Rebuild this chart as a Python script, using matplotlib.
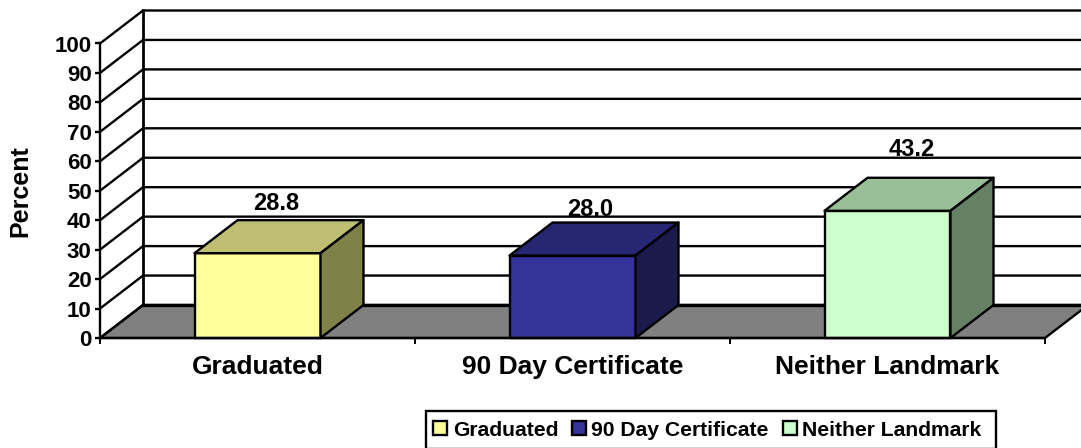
import matplotlib
matplotlib.use('Agg')
import matplotlib.pyplot as plt
from matplotlib.patches import Polygon, Patch, Rectangle

plt.rcParams['font.family'] = ['Liberation Sans', 'DejaVu Sans']
plt.rcParams['font.weight'] = 'bold'

categories = ['Graduated', '90 Day Certificate', 'Neither Landmark']
values = [28.8, 28.0, 43.2]
value_labels = ['28.8', '28.0', '43.2']
front_colors = ['#FFFF99', '#333399', '#CCFFCC']
top_colors = ['#BFBF73', '#262673', '#99BF99']
side_colors = ['#808049', '#1A1A4D', '#668066']
y_ticks = list(range(0, 101, 10))

W, H = 1081, 448
LW = 1.7
# depth of the fake 3d box, in data units (43px across, 33px up)
dx = 43 / 315
dy = 33 / 2.945
bar_w = 0.4
# label offset from the box centre, and gap above its back edge
label_shift = [0.058, 0.056, 0.077]
label_gap = [5.8, 4.4, 9.6]

fig = plt.figure(figsize=(W / 100, H / 100), dpi=100)
ax = fig.add_axes([100 / W, (H - 338) / H, 945 / W, 294.5 / H])
ax.set_xlim(0, 3)
ax.set_ylim(0, 100)

# floor
ax.add_patch(Polygon([(0, 0), (3, 0), (3 + dx, dy), (dx, dy)], closed=True, fc='#808080',
                     ec='k', lw=LW, clip_on=False, zorder=1))
ax.plot([dx, 3 + dx], [dy, dy], color='k', lw=2.4, clip_on=False, zorder=2)

# back wall and side wall grid
for v in y_ticks:
    if v > 0:
        ax.plot([0, dx, 3 + dx], [v, v + dy, v + dy], color='k', lw=LW, clip_on=False, zorder=2)
ax.plot([dx, dx], [dy, 100 + dy], color='k', lw=LW + 0.3, clip_on=False, zorder=2)
ax.plot([0, dx], [0, dy], color='k', lw=LW, clip_on=False, zorder=2)

# boxes
for i, v in enumerate(values):
    x0 = i + 0.5 - bar_w / 2
    x1 = x0 + bar_w
    ax.add_patch(Polygon([(x0, 0), (x1, 0), (x1, v), (x0, v)], closed=True, fc=front_colors[i],
                         ec='k', lw=LW, clip_on=False, zorder=3, joinstyle='round'))
    ax.add_patch(Polygon([(x0, v), (x1, v), (x1 + dx, v + dy), (x0 + dx, v + dy)], closed=True,
                         fc=top_colors[i], ec='k', lw=LW, clip_on=False, zorder=3, joinstyle='round'))
    ax.add_patch(Polygon([(x1, 0), (x1 + dx, dy), (x1 + dx, v + dy), (x1, v)], closed=True,
                         fc=side_colors[i], ec='k', lw=LW, clip_on=False, zorder=3, joinstyle='round'))
    ax.text(i + 0.5 + label_shift[i], v + dy + label_gap[i], value_labels[i], ha='center', va='center',
            fontsize=17, fontweight='bold', zorder=5)

ax.patch.set_visible(False)
for s in ['top', 'right']:
    ax.spines[s].set_visible(False)
for s in ['left', 'bottom']:
    ax.spines[s].set_linewidth(LW)
    ax.spines[s].set_zorder(4)

ax.set_yticks(y_ticks)
ax.tick_params(axis='y', length=3.5, width=LW, labelsize=16, pad=2.5)
ax.set_xticks([0, 1, 2, 3])
ax.set_xticklabels([])
ax.tick_params(axis='x', which='major', length=4, width=1.4)
ax.set_xticks([0.5, 1.5, 2.5], minor=True)
ax.set_xticklabels(categories, minor=True, fontsize=19, fontweight='bold')
ax.tick_params(axis='x', which='minor', length=0, pad=12.5)

fig.text(20 / W, 1 - 191 / H, 'Percent', rotation=90, ha='center', va='center',
         fontsize=18, fontweight='bold')

# legend frame runs past the bottom of the figure, so it is a separate rectangle
fig.add_artist(Rectangle((426 / W, -1 / H), 570 / W, 38 / H, transform=fig.transFigure,
                         fc='white', ec='k', lw=1.7))
handles = [Patch(fc=c, ec='k', lw=1.7) for c in front_colors]
leg = fig.legend(handles, categories, ncol=3, loc='center left',
                 bbox_to_anchor=(433 / W, 18 / H), bbox_transform=fig.transFigure,
                 borderaxespad=0, frameon=False, borderpad=0,
                 fontsize=15.2, handlelength=0.66, handleheight=0.66, handletextpad=0.27,
                 columnspacing=0.65)

fig.savefig('out.png', dpi=100)
